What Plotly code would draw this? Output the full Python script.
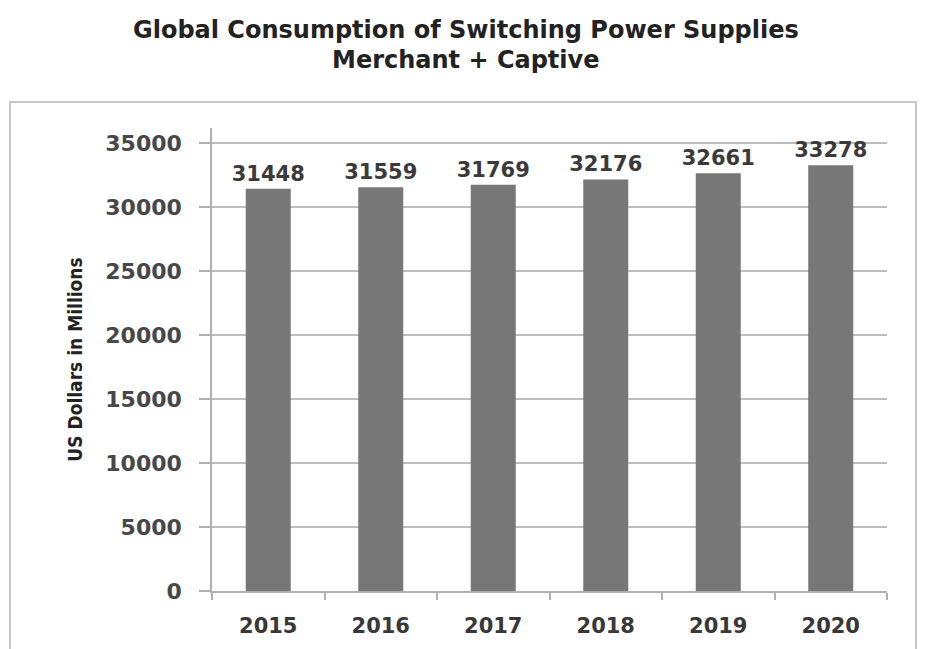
import plotly.graph_objects as go

years = ["2015", "2016", "2017", "2018", "2019", "2020"]
values = [31448, 31559, 31769, 32176, 32661, 33278]
y_ticks = [0, 5000, 10000, 15000, 20000, 25000, 30000, 35000]
y_tick_labels = [str(v) for v in y_ticks]

W, H = 925, 649
L, R, T, B = 212, 38, 128, 58
pw, ph = W - L - R, H - T - B

fig = go.Figure(go.Bar(
    x=years, y=values,
    marker=dict(color="#777777", line=dict(width=0)),
    text=[str(v) for v in values],
    textposition="outside",
    textfont=dict(family="DejaVu Sans", size=21, color="#3a3a3a", weight="bold"),
    constraintext="none",
    cliponaxis=False,
))

def px_x(p):
    return (p - L) / pw

def px_y(p):
    return (H - B - p) / ph

fig.update_layout(
    width=W, height=H,
    margin=dict(l=L, r=R, t=T, b=B, autoexpand=False),
    paper_bgcolor="white", plot_bgcolor="white",
    bargap=0.6,
    showlegend=False,
    annotations=[
        dict(text="<b>Global Consumption of Switching Power Supplies</b>",
             xref="paper", yref="paper", x=px_x(466), y=px_y(30),
             xanchor="center", yanchor="middle", showarrow=False,
             font=dict(family="DejaVu Sans", size=24, color="#222222")),
        dict(text="<b>Merchant + Captive</b>",
             xref="paper", yref="paper", x=px_x(466), y=px_y(60),
             xanchor="center", yanchor="middle", showarrow=False,
             font=dict(family="DejaVu Sans", size=24, color="#222222")),
    ],
    shapes=[dict(
        type="rect", xref="paper", yref="paper",
        x0=px_x(10), x1=px_x(916), y0=px_y(660), y1=px_y(102),
        line=dict(color="#c8c8c8", width=2), layer="below",
    )],
)

fig.update_yaxes(
    range=[0, 36200],
    tickvals=y_ticks, ticktext=y_tick_labels,
    automargin=False,
    showgrid=True, gridcolor="#bdbdbd", gridwidth=1.5,
    showline=True, linecolor="#b0b0b0", linewidth=1.5,
    ticks="outside", ticklen=11, tickcolor="#b0b0b0", tickwidth=1.5,
    ticklabelstandoff=13,
    tickfont=dict(family="DejaVu Sans", size=22, color="#484848", weight="bold"),
    zeroline=False,
    title=dict(text="<b>US Dollars in Millions</b>", standoff=18,
               font=dict(family="Liberation Sans Narrow, DejaVu Sans Condensed, Arial Narrow, sans-serif",
                         size=19, color="#222222")),
)

fig.update_xaxes(
    automargin=False,
    showline=True, linecolor="#b0b0b0", linewidth=1.5,
    ticks="outside", tickson="boundaries", ticklen=7, tickcolor="#b0b0b0", tickwidth=1.5,
    ticklabelstandoff=15,
    tickfont=dict(family="DejaVu Sans", size=21, color="#383838", weight="bold"),
    showgrid=False,
)

fig.write_html("out.html", config={"displayModeBar": False},
               post_script="document.body.style.margin='0';")
